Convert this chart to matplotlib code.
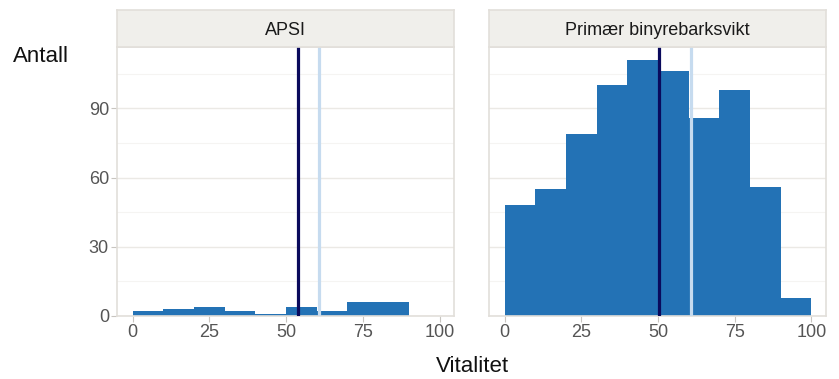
import matplotlib
matplotlib.use("Agg")
import matplotlib.pyplot as plt
import numpy as np

plt.rcParams['font.family'] = ['Liberation Sans', 'DejaVu Sans']

# Histogram bins (width 10) and counts per group
bin_edges = [0, 10, 20, 30, 40, 50, 60, 70, 80, 90, 100]
panels = ["APSI", "Primær binyrebarksvikt"]
counts_apsi = [2, 3, 4, 2, 1, 4, 2, 6, 6, 0]
counts_pbs = [48, 55, 79, 100, 111, 106, 86, 98, 56, 8]
group_means = [53.8, 50.4]
overall_mean = 60.8

y_ticks = [0, 30, 60, 90]
y_minor = [15, 45, 75, 105]
x_ticks = [0, 25, 50, 75, 100]

bar_color = "#2372b5"
dark_line = "#0a0a5c"
light_line = "#c6dbef"
strip_bg = "#f0efeb"
border = "#e2dfda"
tick_col = "#555555"

W, H = 839, 379
fig = plt.figure(figsize=(W / 100, H / 100), dpi=100)

panel_x = [(117.3, 454.3), (489.3, 826.0)]
p_top, p_bot = 47.0, 316.0
s_top, s_bot = 10.0, 46.5

all_counts = [counts_apsi, counts_pbs]
for i, (name, counts) in enumerate(zip(panels, all_counts)):
    x0, x1 = panel_x[i]
    ax = fig.add_axes([x0 / W, 1 - p_bot / H, (x1 - x0) / W, (p_bot - p_top) / H])
    lefts = np.array(bin_edges[:-1])
    widths = np.diff(bin_edges)
    ax.bar(lefts, counts, width=widths, align="edge", color=bar_color,
           linewidth=0, zorder=2)
    ax.axvline(group_means[i], color=dark_line, lw=2.3, zorder=3)
    ax.axvline(overall_mean, color=light_line, lw=2.3, zorder=3)

    ax.set_xlim(-5, 104.8)
    ax.set_ylim(0, 116.6)
    for y in y_ticks:
        ax.axhline(y, color="#ebe9e5", lw=1.0, zorder=1)
    for y in y_minor:
        ax.axhline(y, color="#f5f4f2", lw=0.8, zorder=1)

    ax.set_xticks(x_ticks)
    ax.set_xticklabels([str(v) for v in x_ticks])
    ax.set_yticks(y_ticks)
    ax.tick_params(axis="x", colors="#c8c5c0", labelcolor=tick_col,
                   labelsize=13, length=4, width=0.8, pad=2)
    if i == 0:
        ax.set_yticklabels([str(v) for v in y_ticks])
        ax.tick_params(axis="y", colors="#c8c5c0", labelcolor=tick_col,
                       labelsize=13, length=4, width=0.8, pad=2)
    else:
        ax.tick_params(axis="y", length=0, labelleft=False)
    for sp in ax.spines.values():
        sp.set_color(border)
        sp.set_linewidth(1.2)

    # facet strip
    sax = fig.add_axes([x0 / W, 1 - s_bot / H, (x1 - x0) / W, (s_bot - s_top) / H])
    sax.set_facecolor(strip_bg)
    sax.set_xticks([])
    sax.set_yticks([])
    for sp in sax.spines.values():
        sp.set_color(border)
        sp.set_linewidth(1.2)
    sax.text(0.5, 0.45, name, ha="center", va="center", fontsize=13,
             color="#1a1a1a", transform=sax.transAxes)

fig.text(13 / W, 1 - 57 / H, "Antall", ha="left", va="center", fontsize=16,
         color="#111111")
fig.text(472 / W, 1 - 366 / H, "Vitalitet", ha="center", va="center",
         fontsize=16, color="#111111")

fig.savefig("out.png", dpi=100)
